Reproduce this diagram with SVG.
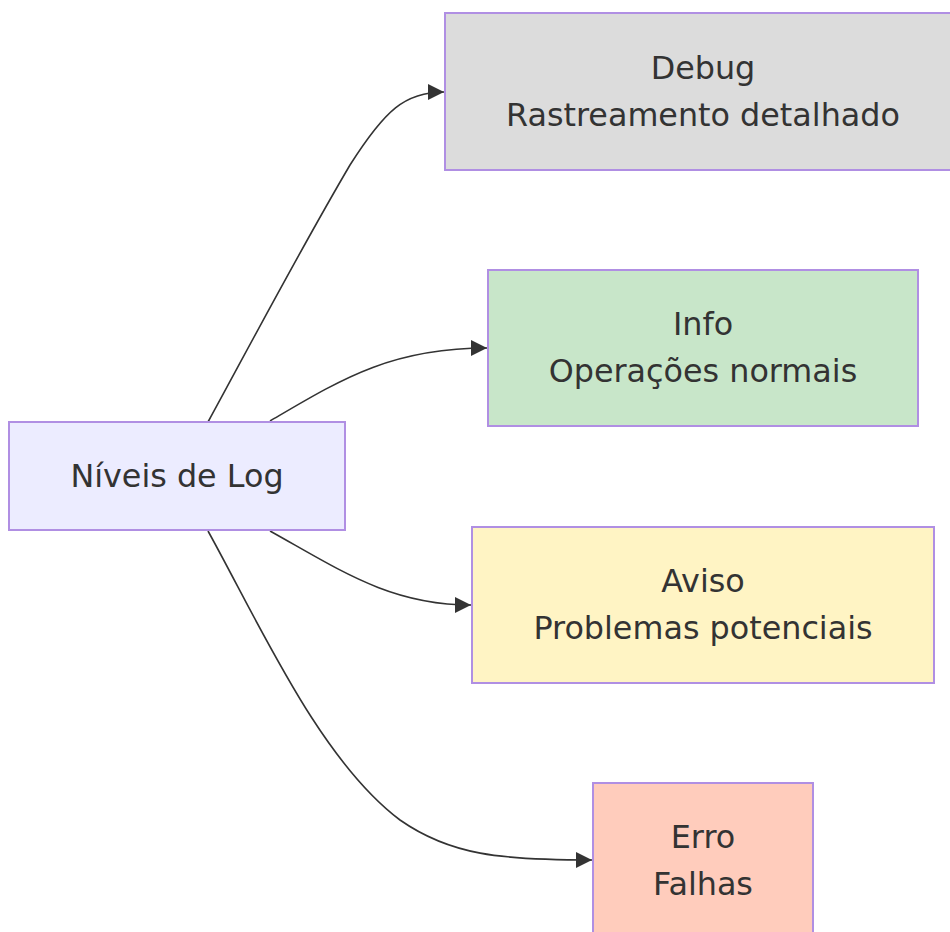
<svg xmlns="http://www.w3.org/2000/svg" width="950" height="932" viewBox="0 0 950 932">
<style>
.node rect{stroke:#b08fe3;stroke-width:2}
.node text{font-family:"DejaVu Sans",sans-serif;font-size:31.8px;fill:#333;text-anchor:middle}
.edge{fill:none;stroke:#333;stroke-width:1.6}
</style>
<defs>
<marker id="arr" viewBox="0 0 10 10" refX="10" refY="5" markerWidth="16" markerHeight="16" markerUnits="userSpaceOnUse" orient="auto">
<path d="M0,0 L10,5 L0,10 z" fill="#333"/>
</marker>
</defs>
<rect width="950" height="932" fill="#fff"/>
<g id="connectors">
<path class="edge" d="M208,422 C250,345 300,250 350,165 C385,110 405,92 444,92" marker-end="url(#arr)"/>
<path class="edge" d="M270,421 C340,380 390,348 487,348" marker-end="url(#arr)"/>
<path class="edge" d="M270,531 C340,570 390,605 471,605" marker-end="url(#arr)"/>
<path class="edge" d="M208,531 C260,625 320,760 400,820 C450,855 500,860 592,860" marker-end="url(#arr)"/>
</g>
<g id="main" class="node">
<rect x="9" y="422" width="336" height="108" fill="#ececff"/>
<text x="177" y="487">Níveis de Log</text>
</g>
<g id="debug" class="node">
<rect x="445" y="13" width="517" height="157" fill="#dcdcdc"/>
<text x="703" y="79">Debug</text>
<text x="703" y="126">Rastreamento detalhado</text>
</g>
<g id="info" class="node">
<rect x="488" y="270" width="430" height="156" fill="#c8e6c9"/>
<text x="703" y="335">Info</text>
<text x="703" y="382">Operações normais</text>
</g>
<g id="aviso" class="node">
<rect x="472" y="527" width="462" height="156" fill="#fff4c4"/>
<text x="703" y="592">Aviso</text>
<text x="703" y="639">Problemas potenciais</text>
</g>
<g id="erro" class="node">
<rect x="593" y="783" width="220" height="156" fill="#ffccbc"/>
<text x="703" y="848">Erro</text>
<text x="703" y="895">Falhas</text>
</g>
</svg>
